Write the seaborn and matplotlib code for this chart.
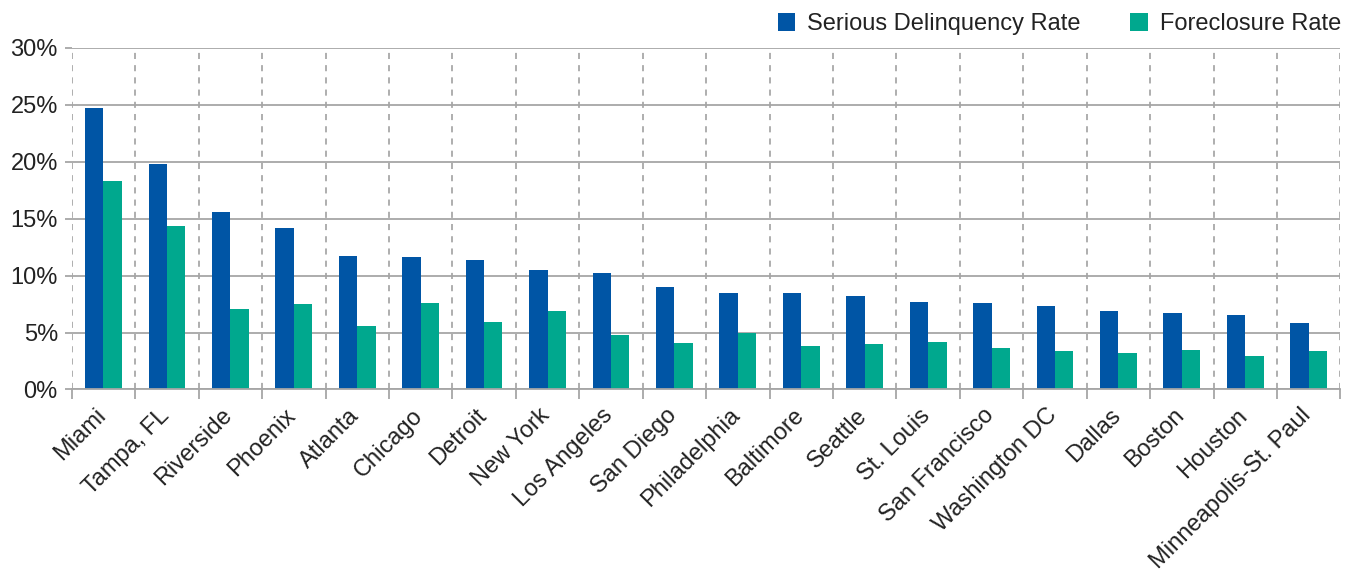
import matplotlib
matplotlib.use("Agg")
import matplotlib.pyplot as plt
import matplotlib.transforms as mtransforms
import seaborn as sns
import pandas as pd
import numpy as np
from matplotlib.ticker import FuncFormatter, FixedLocator
from matplotlib.patches import Patch

cities = ["Miami", "Tampa, FL", "Riverside", "Phoenix", "Atlanta", "Chicago", "Detroit",
          "New York", "Los Angeles", "San Diego", "Philadelphia", "Baltimore", "Seattle",
          "St. Louis", "San Francisco", "Washington DC", "Dallas", "Boston", "Houston",
          "Minneapolis-St. Paul"]
serious_delinquency = [24.7, 19.8, 15.6, 14.2, 11.7, 11.6, 11.4, 10.5, 10.2, 9.0, 8.5, 8.5,
                       8.2, 7.7, 7.6, 7.3, 6.9, 6.7, 6.5, 5.8]
foreclosure = [18.3, 14.4, 7.1, 7.5, 5.6, 7.6, 5.9, 6.9, 4.75, 4.1, 5.0, 3.8, 4.0, 4.2,
               3.6, 3.35, 3.2, 3.5, 2.9, 3.35]
series_names = ["Serious Delinquency Rate", "Foreclosure Rate"]
colors = ["#0055A5", "#00A88E"]

df = pd.DataFrame({
    "city": cities * 2,
    "value": serious_delinquency + foreclosure,
    "series": [series_names[0]] * len(cities) + [series_names[1]] * len(cities),
})

sns.set_style("white")
plt.rcParams["font.family"] = ["Liberation Sans", "DejaVu Sans"]

fig = plt.figure(figsize=(13.54, 5.71), dpi=100)
ax = fig.add_axes([0.053, 0.318, 0.937, 0.598])

sns.barplot(data=df, x="city", y="value", hue="series", palette=colors, width=0.58,
            saturation=1, ax=ax, legend=False, linewidth=0, edgecolor="none")

n = len(cities)
ax.set_xlim(-0.5, n - 0.5)
ax.set_ylim(0, 30)
ax.yaxis.set_major_locator(FixedLocator([0, 5, 10, 15, 20, 25, 30]))
ax.yaxis.set_major_formatter(FuncFormatter(lambda v, p: f"{int(v)}%"))
ax.grid(axis="y", color="#A6A6A6", linewidth=1.3, linestyle="-")
for b in np.arange(-0.5, n, 1.0):
    ax.axvline(b, color="#999999", linewidth=1.1, linestyle=(0, (4, 4)), zorder=0)
ax.set_axisbelow(True)
for s in ["top", "right", "left"]:
    ax.spines[s].set_visible(False)
ax.spines["bottom"].set_color("#A6A6A6")
ax.spines["bottom"].set_linewidth(1.3)

ax.set_xticks(range(n))
ax.set_xticklabels(cities, rotation=45, ha="right", rotation_mode="anchor", fontsize=17,
                   color="#222222")
ax.tick_params(axis="x", length=0, pad=8)
offset = mtransforms.ScaledTranslation(-9 / 100, -4 / 100, fig.dpi_scale_trans)
for lbl in ax.get_xticklabels():
    lbl.set_transform(lbl.get_transform() + offset)
ax.xaxis.set_minor_locator(FixedLocator(np.arange(-0.5, n, 1.0)))
ax.tick_params(axis="x", which="minor", length=7, color="#A6A6A6", width=1.3, bottom=True)
ax.tick_params(axis="y", labelsize=17, left=True, length=5, width=1.3, color="#A6A6A6",
               pad=5, labelcolor="#222222")
ax.set_xlabel("")
ax.set_ylabel("")

handles = [Patch(facecolor=c, edgecolor="none") for c in colors]
fig.legend(handles, series_names, loc="upper right", bbox_to_anchor=(1.006, 1.014), ncol=2,
           frameon=False, fontsize=17, handlelength=0.75, handleheight=0.75,
           handletextpad=0.5, columnspacing=2.1, labelcolor="#222222")

fig.savefig("out.png", dpi=100)
